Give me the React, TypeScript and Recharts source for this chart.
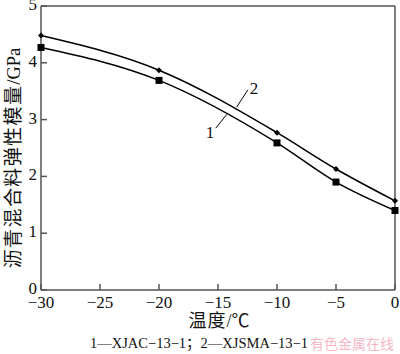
import React from 'react';
import { LineChart, Line, XAxis, YAxis, ReferenceLine, ReferenceDot } from 'recharts';

const temps = [-30, -20, -10, -5, 0];
const series1 = [4.27, 3.69, 2.59, 1.9, 1.4];
const series2 = [4.48, 3.87, 2.77, 2.13, 1.57];
const xTicks = [-30, -25, -20, -15, -10, -5, 0];
const yTicks = [0, 1, 2, 3, 4, 5];

const data = temps.map((t, i) => ({ t, s1: series1[i], s2: series2[i] }));

const AX = '#555';
const SERIF = '"Liberation Serif", "Times New Roman", serif';
const CJK = '"Liberation Serif", "Noto Sans CJK SC", serif';

const fmt = (v: number) => (v < 0 ? '\u2212' + Math.abs(v) : String(v));

const XTick = (p: any) => {
  const { x, y, payload } = p;
  return (
    <g>
      <line x1={x} y1={y} x2={x} y2={y - 6} stroke={AX} strokeWidth={1.5} />
      <text x={x} y={y + 18} textAnchor="middle" fontFamily={SERIF} fontSize={17} fill="#111">
        {fmt(payload.value)}
      </text>
    </g>
  );
};

const YTick = (p: any) => {
  const { x, y, payload } = p;
  return (
    <g>
      <line x1={x} y1={y} x2={x + 6} y2={y} stroke={AX} strokeWidth={1.5} />
      <text x={x - 4} y={y + 4} textAnchor="end" fontFamily={SERIF} fontSize={17} fill="#111">
        {payload.value}
      </text>
    </g>
  );
};

const SquareDot = (p: any) => {
  const { cx, cy } = p;
  return <rect x={cx - 3.5} y={cy - 3.5} width={7} height={7} fill="#000" />;
};
const DiamondDot = (p: any) => {
  const { cx, cy } = p;
  return <path d={`M${cx},${cy - 3} L${cx + 3},${cy} L${cx},${cy + 3} L${cx - 3},${cy} Z`} fill="#000" />;
};

export default function App() {
  return (
    <div style={{ position: 'absolute', left: 0, top: 0, width: 400, height: 354, background: '#fff' }}>
      <LineChart width={400} height={354} data={data} margin={{ top: 5, right: 4, bottom: 34, left: 1 }}>
        <XAxis
          dataKey="t"
          type="number"
          domain={[-30, 0]}
          ticks={xTicks}
          height={30}
          tickSize={0}
          tickMargin={0}
          tickLine={false}
          tick={<XTick />}
          axisLine={{ stroke: AX, strokeWidth: 1.5 }}
          interval={0}
        />
        <XAxis xAxisId="top" orientation="top" dataKey="t" type="number" domain={[-30, 0]} height={1} tick={false} tickLine={false} axisLine={{ stroke: AX, strokeWidth: 1.5 }} />
        <YAxis
          type="number"
          domain={[0, 5]}
          ticks={yTicks}
          width={40}
          tickSize={0}
          tickMargin={0}
          tickLine={false}
          tick={<YTick />}
          axisLine={{ stroke: AX, strokeWidth: 1.5 }}
          interval={0}
        />
        <YAxis yAxisId="right" orientation="right" type="number" domain={[0, 5]} width={1} tick={false} tickLine={false} axisLine={{ stroke: AX, strokeWidth: 1.5 }} />
        <Line dataKey="s1" type="monotone" stroke="#000" strokeWidth={1.5} dot={<SquareDot />} isAnimationActive={false} />
        <Line dataKey="s2" type="monotone" stroke="#000" strokeWidth={1.5} dot={<DiamondDot />} isAnimationActive={false} />
        <ReferenceLine segment={[{ x: -13.42, y: 3.22 }, { x: -12.48, y: 3.52 }]} stroke="#000" strokeWidth={1} />
        <ReferenceLine segment={[{ x: -14.26, y: 3.09 }, { x: -15.19, y: 2.85 }]} stroke="#000" strokeWidth={1} />
        <ReferenceDot x={-11.95} y={3.56} r={0} fill="none" stroke="none"
          label={{ value: '2', position: 'center', fontFamily: SERIF, fontSize: 17, fill: '#111' }} />
        <ReferenceDot x={-15.68} y={2.79} r={0} fill="none" stroke="none"
          label={{ value: '1', position: 'center', fontFamily: SERIF, fontSize: 17, fill: '#111' }} />
      </LineChart>
      <div style={{ position: 'absolute', left: 0, top: 0, pointerEvents: 'none' }}>
        <svg width={400} height={354}>
          <text x={219} y={327} textAnchor="middle" fontFamily={CJK} fontSize={18} fill="#111">
            <tspan letterSpacing={1}>温度</tspan><tspan>/℃</tspan>
          </text>
          <text
            transform="translate(20,158) rotate(-90)"
            textAnchor="middle"
            fontFamily={CJK}
            fill="#111"
          >
            <tspan fontSize={19} letterSpacing={1.4}>沥青混合料弹性模量</tspan>
            <tspan fontSize={18.5}>/GPa</tspan>
          </text>
          <text x={199} y={348} textAnchor="middle" fontFamily={CJK} fontSize={14.5} fill="#111">1—XJAC−13−1；2—XJSMA−13−1</text>
          <text x={352} y={349} textAnchor="middle" fontFamily='"Noto Sans CJK SC", sans-serif' fontSize={14} fill="#f4b8c4">有色金属在线</text>
        </svg>
      </div>
    </div>
  );
}
